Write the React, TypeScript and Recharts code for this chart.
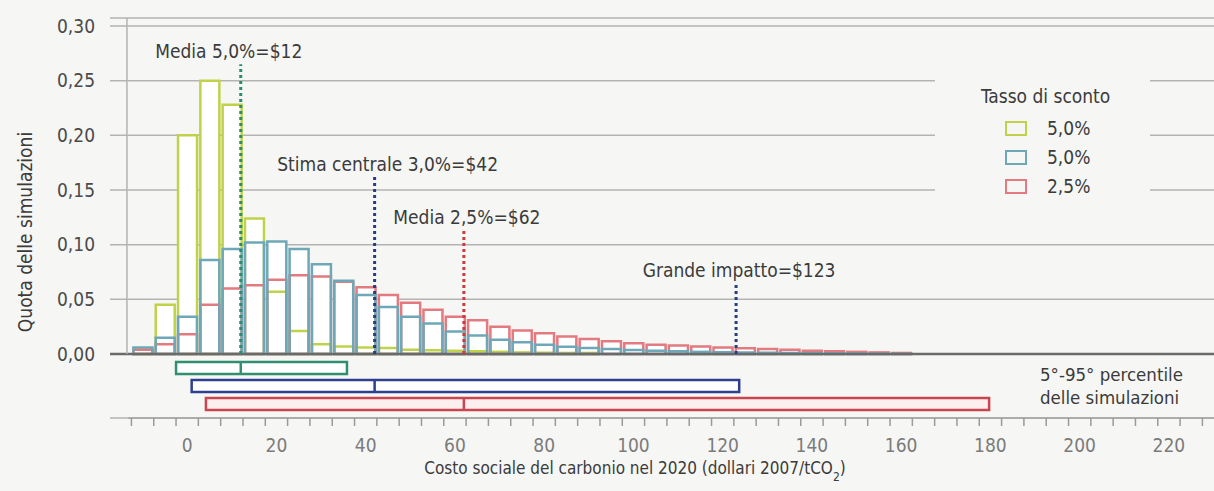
import React from "react";
import {
  BarChart,
  Bar,
  XAxis,
  YAxis,
  CartesianGrid,
  ReferenceLine,
  ReferenceArea,
  Legend,
  Label,
} from "recharts";

// histogram bin centres (dollari 2007/tCO2), bins are 5 wide
const bins = [
  -10, -5, 0, 5, 10, 15, 20, 25, 30, 35, 40, 45, 50, 55, 60, 65, 70, 75, 80, 85,
  90, 95, 100, 105, 110, 115, 120, 125, 130, 135, 140, 145, 150, 155, 160,
];

// share of simulations, discount rate 5,0%
const rate5 = [
  0.005, 0.045, 0.2, 0.25, 0.228, 0.124, 0.057, 0.021, 0.009, 0.007, 0.006,
  0.0055, 0.004, 0.0035, 0.003, 0.0025, 0.002, 0.0015, 0.0012, 0.001, 0.001, 0,
  0, 0, 0, 0, 0, 0, 0, 0, 0, 0, 0, 0, 0,
];

// central estimate, 3,0%
const rate3 = [
  0.006, 0.015, 0.034, 0.086, 0.096, 0.102, 0.103, 0.096, 0.082, 0.067, 0.054,
  0.043, 0.034, 0.028, 0.0205, 0.017, 0.013, 0.0107, 0.0086, 0.0067, 0.0055,
  0.0046, 0.0037, 0.003, 0.0025, 0.002, 0.0017, 0.0014, 0.0012, 0.001, 0.0008,
  0.0006, 0.0005, 0.0004, 0.0003,
];

// discount rate 2,5%
const rate25 = [
  0.004, 0.009, 0.018, 0.045, 0.06, 0.063, 0.068, 0.072, 0.071, 0.066, 0.061,
  0.054, 0.047, 0.0405, 0.034, 0.031, 0.025, 0.0215, 0.019, 0.016, 0.0138,
  0.0116, 0.0098, 0.0086, 0.0077, 0.0068, 0.006, 0.0052, 0.0045, 0.004, 0.003,
  0.0025, 0.002, 0.0015, 0.001,
];

const legendLabels = ["5,0%", "5,0%", "2,5%"];
const yTicks = [0, 0.05, 0.1, 0.15, 0.2, 0.25, 0.3];
const xLabels = [0, 20, 40, 60, 80, 100, 120, 140, 160, 180, 200, 220];

// vertical markers
const markerValues = [12, 42, 62, 123];
const markerLabels = [
  "Media 5,0%=$12",
  "Stima centrale 3,0%=$42",
  "Media 2,5%=$62",
  "Grande impatto=$123",
];

// 5th-95th percentile ranges (green 5%, blue 3%, red 2,5%)
const p5 = [-2.5, 1.0, 4.2];
const p95 = [35.8, 123.7, 179.7];
const medians = [12, 42, 62];

const data = bins.map((bin, i) => ({
  bin,
  r5: rate5[i],
  r3: rate3[i],
  r25: rate25[i],
  top: Math.max(rate5[i], rate3[i], rate25[i]),
}));

const FONT = "'DejaVu Sans Condensed', 'Liberation Sans Narrow', sans-serif";
const FS = 19;
const BG = "#f6f6f4";
const TXT = "#3b3b3b";
const GREEN = "#bfd24a";
const BLUE = "#6ea8b8";
const RED = "#e27a80";
const X_DOMAIN: [number, number] = [-17.3, 230.1];
const Y_DOMAIN: [number, number] = [-0.0585, 0.3073];
const AXIS_Y = 418;
const minorTicks = Array.from({ length: 49 }, (_, i) => -12.5 + i * 5);
const bottomTicks = [...minorTicks, ...xLabels].sort((a, b) => a - b);

const markerColors = ["#2a8c70", "#253f80", "#cc3b3f", "#253f80"];
const markerTops = [0.265, 0.162, 0.113, 0.065];
const markerDx = [-12, 13, 3, 3];
const boxColors = ["#2f8f6f", "#2e3f8f", "#c9454f"];
const boxFills = ["#ffffff", "#ffffff", "#fcefee"];
const boxY = [
  [-0.0073, -0.0183],
  [-0.0238, -0.0348],
  [-0.0402, -0.0512],
];

const BottomTick = (props: any) => {
  const { x, payload } = props;
  if (xLabels.includes(payload.value)) {
    return (
      <text x={x} y={AXIS_Y + 34} textAnchor="middle" fill="#7b7b7b" fontSize={FS} fontFamily={FONT}>
        {payload.value}
      </text>
    );
  }
  return <line x1={x} x2={x} y1={AXIS_Y} y2={AXIS_Y + 8} stroke="#9a9a9a" strokeWidth={1.5} />;
};

const LegendBox = () => {
  const colors = [GREEN, BLUE, RED];
  return (
    <div style={{ position: "relative", width: 215, height: 124, background: BG, fontFamily: FONT, color: TXT }}>
      <div style={{ position: "absolute", left: 46, top: 7, fontSize: FS, lineHeight: "26px", whiteSpace: "nowrap" }}>
        Tasso di sconto
      </div>
      {legendLabels.map((name, i) => (
        <div
          key={i}
          style={{ position: "absolute", left: 70, top: 38 + i * 29, height: 28, display: "flex", alignItems: "center" }}
        >
          <span style={{ display: "inline-block", width: 18, height: 11, border: `2.5px solid ${colors[i]}`, marginRight: 20 }} />
          <span style={{ fontSize: FS }}>{name}</span>
        </div>
      ))}
    </div>
  );
};

export default function App() {
  return (
    <div style={{ position: "absolute", left: 0, top: 0, width: 1214, height: 491, background: BG }}>
      <BarChart width={1214} height={491} data={data} margin={{ top: 18, right: 0, left: 50, bottom: 0 }}>
        <CartesianGrid horizontal vertical={false} stroke="#b3b3b3" strokeWidth={1.5} />
        <XAxis dataKey="bin" type="number" domain={X_DOMAIN} allowDataOverflow hide />
        <XAxis xAxisId="bg" dataKey="bin" type="number" domain={X_DOMAIN} allowDataOverflow hide />
        <XAxis xAxisId="r" dataKey="bin" type="number" domain={X_DOMAIN} allowDataOverflow hide />
        <XAxis xAxisId="b" dataKey="bin" type="number" domain={X_DOMAIN} allowDataOverflow hide />
        <XAxis
          xAxisId="lbl"
          dataKey="bin"
          type="number"
          domain={X_DOMAIN}
          allowDataOverflow
          ticks={bottomTicks}
          interval={0}
          tick={<BottomTick />}
          tickLine={false}
          axisLine={false}
          tickSize={0}
          tickMargin={0}
          height={73}
        >
          <Label
            content={() => (
              <text x={635} y={474} textAnchor="middle" fill={TXT} fontSize={17} fontFamily={FONT}>
                Costo sociale del carbonio nel 2020 (dollari 2007/tCO
                <tspan baselineShift="sub" fontSize={12}>2</tspan>)
              </text>
            )}
          />
        </XAxis>
        <YAxis
          type="number"
          domain={Y_DOMAIN}
          allowDataOverflow
          ticks={yTicks}
          interval={0}
          width={60}
          axisLine={false}
          tickLine={false}
          tickSize={0}
          tickMargin={15}
          tickFormatter={(v: number) => v.toFixed(2).replace(".", ",")}
          tick={{ fill: "#4a4a4a", fontSize: FS, fontFamily: FONT }}
        >
          <Label
            content={() => (
              <text
                x={25}
                y={232}
                transform="rotate(-90 25 232)"
                textAnchor="middle"
                dominantBaseline="central"
                fill={TXT}
                fontSize={FS}
                fontFamily={FONT}
              >
                Quota delle simulazioni
              </text>
            )}
          />
        </YAxis>

        <Bar xAxisId="bg" dataKey="top" fill="#ffffff" barSize={19} legendType="none" isAnimationActive={false} />
        <Bar dataKey="r5" name={legendLabels[0]} fill="none" stroke={GREEN} strokeWidth={2.5} barSize={19} isAnimationActive={false} />
        <Bar xAxisId="r" dataKey="r25" name={legendLabels[2]} fill="none" stroke={RED} strokeWidth={2.5} barSize={19} isAnimationActive={false} />
        <Bar xAxisId="b" dataKey="r3" name={legendLabels[1]} fill="none" stroke={BLUE} strokeWidth={2.5} barSize={19} isAnimationActive={false} />

        <ReferenceLine y={0} stroke="#6a6a6a" strokeWidth={2.5} />
        <ReferenceLine
          segment={[{ x: -13.5, y: 0 }, { x: -13.5, y: Y_DOMAIN[1] }]}
          stroke="#b3b3b3"
          strokeWidth={1.5}
        />
        <ReferenceLine
          segment={[{ x: -13.2, y: Y_DOMAIN[0] }, { x: X_DOMAIN[1], y: Y_DOMAIN[0] }]}
          stroke="#a5a5a5"
          strokeWidth={1.5}
        />

        {markerValues.map((v, i) => (
          <ReferenceLine
            key={"m" + i}
            segment={[{ x: v, y: 0 }, { x: v, y: markerTops[i] }]}
            stroke={markerColors[i]}
            strokeWidth={3}
            strokeDasharray="3 3"
            label={{
              value: markerLabels[i],
              position: "top",
              offset: 6,
              dx: markerDx[i],
              fill: TXT,
              fontSize: FS,
              fontFamily: FONT,
            }}
          />
        ))}

        {p5.map((lo, i) => (
          <ReferenceArea
            key={"p" + i}
            x1={lo}
            x2={p95[i]}
            y1={boxY[i][0]}
            y2={boxY[i][1]}
            fill={boxFills[i]}
            fillOpacity={1}
            stroke={boxColors[i]}
            strokeWidth={2.5}
          />
        ))}
        {medians.map((m, i) => (
          <ReferenceLine
            key={"md" + i}
            segment={[{ x: m, y: boxY[i][0] }, { x: m, y: boxY[i][1] }]}
            stroke={boxColors[i]}
            strokeWidth={2.5}
          />
        ))}

        <Legend
          layout="horizontal"
          verticalAlign="middle"
          align="center"
          wrapperStyle={{ left: 935, top: 76, width: 215, height: 124 }}
          content={() => <LegendBox />}
        />
      </BarChart>
      <div
        style={{
          position: "absolute",
          left: 1040,
          top: 363,
          fontFamily: FONT,
          fontSize: 18.5,
          lineHeight: "23px",
          color: TXT,
          whiteSpace: "nowrap",
        }}
      >
        5°-95° percentile
        <br />
        delle simulazioni
      </div>
    </div>
  );
}
